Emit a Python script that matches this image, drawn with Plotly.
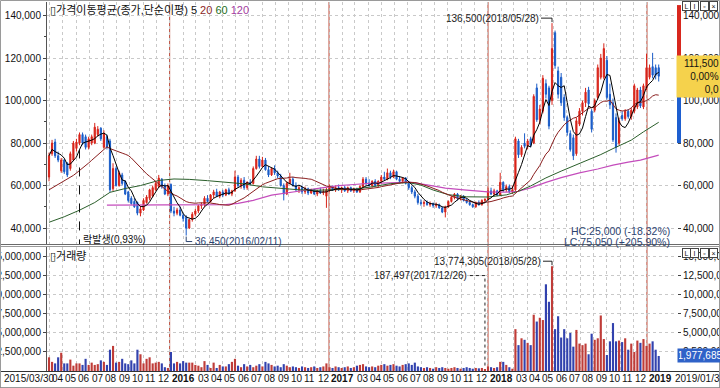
import pandas as pd
import plotly.graph_objects as go

# ------------------------------------------------------------------ data
first_week = "2015-03-30"          # weekly candles (Mondays)

opens = [
    64000, 75000, 80500, 74000, 67000, 72000, 70500, 68000, 72000, 77500,
    80000, 84000, 83000, 78000, 80000, 80000, 84000, 87000, 78000, 83000,
    81000, 58500, 68000, 60000, 65000, 62000, 57000, 54000, 52500, 52000,
    47000, 48500, 52000, 54000, 55000, 58000, 59500, 63000, 60000, 56000,
    60500, 48000, 47000, 48500, 46000, 45000, 40000, 44000, 46500, 48000,
    50500, 51000, 54000, 52500, 55500, 57000, 55000, 57000, 55500, 58000,
    56000, 57500, 64000, 60000, 62500, 59000, 61500, 61000, 68000, 72500,
    69000, 72000, 67500, 65000, 68000, 66000, 64500, 60000, 56000, 61000,
    63000, 60000, 58000, 59000, 57000, 58500, 56500, 58000, 56000, 57500,
    56500, 55000, 58000, 59500, 58000, 59000, 58000, 59000, 57500, 59000,
    57500, 58500, 57000, 59500, 63000, 61000, 60000, 62000, 60000, 62000,
    64000, 63000, 66000, 64000, 66500, 63000, 62000, 63500, 61000, 59000,
    57000, 55000, 52000, 51500, 52000, 51000, 51500, 50500, 51000, 49500,
    47500, 50000, 52500, 54500, 56000, 54000, 55000, 53000, 52000, 51000,
    50000, 52000, 51000, 53000, 53500, 57500, 56000, 57500, 55500, 61500,
    58000, 59500, 57000, 58000, 81000, 74500, 80000, 78500, 82000, 80000,
    106000, 91000, 95000, 108000, 106000, 100000, 132000, 114000, 111000, 101500,
    92000, 84500, 82500, 75000, 89000, 95000, 99000, 105000, 95000, 95500,
    101500, 111000, 111000, 119000, 103000, 99000, 92000, 80000, 93000, 91500,
    95000, 92500, 95000, 97000, 105000, 97000, 106000, 111000, 116000, 115500,
    115500]
highs = [
    75500, 81500, 82000, 76000, 73000, 72500, 71000, 76000, 81000, 82000,
    85000, 85000, 84000, 83000, 84000, 89500, 88000, 87500, 86000, 84000,
    82000, 70500, 69000, 67000, 66000, 62500, 57500, 55000, 54000, 52500,
    50500, 54000, 55500, 58500, 60000, 62000, 65000, 63500, 61000, 61000,
    61000, 50000, 49500, 50000, 47000, 46000, 44500, 47500, 49000, 51000,
    52000, 55000, 55500, 56000, 58000, 58500, 57500, 58000, 58500, 59000,
    58000, 67000, 65000, 63500, 64000, 62000, 63000, 69000, 74000, 74000,
    73500, 73000, 69000, 68500, 69500, 67000, 65500, 61000, 62000, 66000,
    64000, 61500, 60000, 60000, 59500, 59000, 58500, 58500, 58000, 59000,
    58500, 59000, 60500, 60000, 60000, 60500, 59500, 60000, 59500, 59500,
    59000, 59000, 60000, 64000, 64000, 63000, 62500, 63000, 62500, 65000,
    66500, 68000, 67000, 67500, 67000, 64500, 64000, 64000, 62000, 60000,
    58000, 56000, 53500, 53000, 53000, 52500, 52000, 52000, 51500, 50000,
    50500, 53000, 55000, 56500, 56500, 55500, 55500, 54000, 53000, 51500,
    52500, 53000, 53500, 54000, 59000, 59000, 58500, 58000, 66000, 62000,
    60500, 60500, 60000, 83000, 82000, 79000, 84600, 82000, 83000, 103000,
    108000, 98000, 112000, 110000, 107000, 136500, 133000, 116000, 113000, 103000,
    93000, 86000, 84000, 92000, 96500, 100000, 106000, 106500, 96000, 101000,
    117000, 122000, 127000, 121000, 108000, 101000, 94000, 92000, 95000, 96000,
    96000, 96500, 108000, 106000, 106500, 108000, 122000, 117000, 122500, 117000,
    117000]
lows = [
    62000, 74000, 73000, 71000, 66000, 65500, 64000, 67000, 71500, 76000,
    79000, 79000, 77000, 77000, 79000, 79500, 83000, 81000, 77500, 77000,
    57000, 57500, 59500, 59500, 60000, 55500, 52000, 51000, 49500, 46000,
    45500, 48000, 51500, 53000, 54500, 57500, 59000, 58500, 55500, 55000,
    47000, 45500, 46000, 45500, 43000, 36450, 39500, 43000, 45500, 47000,
    49000, 50000, 52000, 52000, 54000, 54500, 54000, 54500, 55000, 55500,
    55000, 57000, 59000, 58500, 58000, 58000, 60000, 60500, 67500, 68000,
    68500, 67000, 64000, 64500, 65000, 63500, 59500, 53000, 55500, 60500,
    59500, 57500, 56500, 56000, 56000, 55500, 56000, 55500, 55000, 56000,
    55500, 49500, 57000, 57500, 57000, 57500, 56500, 57000, 56500, 57000,
    56500, 56500, 56500, 59000, 60000, 59500, 59000, 59500, 59000, 61000,
    62500, 62500, 63000, 63500, 62500, 61000, 61000, 60500, 58000, 56000,
    54000, 51000, 50500, 50000, 50500, 50000, 49500, 49500, 49000, 47000,
    45000, 49500, 52000, 53500, 53000, 53000, 52500, 51500, 50500, 49500,
    49500, 50500, 50500, 52000, 53000, 55500, 55000, 55000, 55000, 57000,
    57000, 56500, 56000, 57500, 73000, 73500, 77500, 77000, 78000, 79500,
    90000, 89000, 94000, 101000, 86500, 98000, 115000, 101000, 97500, 90500,
    83500, 76000, 72000, 74000, 88000, 93000, 97000, 97500, 85000, 94500,
    100500, 110000, 110000, 100500, 96000, 80500, 75500, 79000, 90500, 90500,
    91500, 91000, 94000, 96000, 96500, 96000, 105000, 110000, 110500, 110000,
    109000]
closes = [
    74000, 80000, 74000, 72000, 72000, 66500, 65000, 75000, 80000, 80500,
    84000, 80000, 78000, 82000, 83000, 87500, 86500, 82000, 84600, 78000,
    58000, 68000, 60000, 66000, 61000, 56000, 53000, 51500, 50000, 47000,
    49000, 53000, 54600, 58000, 59000, 61000, 63500, 59500, 56000, 60000,
    48000, 47000, 48500, 46000, 44500, 40000, 44000, 46500, 48000, 50500,
    51000, 54000, 52500, 55500, 57000, 55000, 57000, 55500, 58000, 56000,
    57500, 64000, 60000, 62500, 59000, 61500, 61000, 68000, 72500, 69000,
    72000, 67500, 65000, 68000, 66000, 64500, 60000, 56000, 61000, 63000,
    60000, 58000, 59000, 57000, 58500, 56500, 58000, 56000, 57500, 56500,
    57000, 58000, 59500, 58000, 59000, 58000, 59000, 57500, 59000, 57500,
    58500, 57000, 59500, 63000, 61000, 60000, 62000, 60000, 62000, 64000,
    63000, 66000, 64000, 66500, 63000, 62000, 63500, 61000, 59000, 57000,
    55000, 52000, 51500, 52000, 51000, 51500, 50500, 51000, 49500, 47500,
    50000, 52500, 54500, 56000, 54000, 55000, 53000, 52000, 51000, 50000,
    52000, 51000, 53000, 53500, 57500, 56000, 57500, 55500, 61500, 58000,
    59500, 57000, 58000, 82000, 74500, 78000, 78500, 81000, 79000, 102000,
    91000, 96000, 110500, 103000, 88000, 124500, 116500, 103000, 99000, 92000,
    85000, 77000, 74000, 90500, 95000, 99000, 104000, 98500, 86500, 100000,
    115500, 120000, 124500, 101500, 98000, 81500, 78000, 90500, 91500, 95000,
    92500, 95500, 107000, 105000, 97500, 107000, 115500, 115500, 112000, 112000,
    111500]
volumes = [
    1800000, 1200000, 1000000, 1800000, 2400000, 1000000, 1000000, 1500000, 700000, 1000000,
    1000000, 800000, 1600000, 800000, 1100000, 800000, 900000, 1400000, 1200000, 800000,
    2800000, 3300000, 1100000, 1200000, 1600000, 1000000, 900000, 1400000, 1000000, 2800000,
    2200000, 1000000, 1600000, 1800000, 1000000, 1100000, 1200000, 1000000, 500000, 400000,
    2500000, 1000000, 1200000, 1000000, 1300000, 1100000, 1100000, 1100000, 800000, 700000,
    500000, 1300000, 800000, 400000, 1100000, 400000, 800000, 600000, 600000, 900000,
    1200000, 1600000, 700000, 500000, 900000, 600000, 800000, 500000, 700000, 900000,
    600000, 1200000, 1000000, 800000, 600000, 700000, 500000, 900000, 700000, 500000,
    600000, 500000, 400000, 600000, 500000, 400000, 500000, 600000, 400000, 500000,
    600000, 1000000, 500000, 400000, 600000, 500000, 400000, 500000, 600000, 400000,
    500000, 700000, 800000, 900000, 600000, 500000, 600000, 500000, 700000, 800000,
    900000, 700000, 800000, 900000, 700000, 600000, 800000, 900000, 1000000, 800000,
    1100000, 600000, 500000, 400000, 500000, 400000, 300000, 500000, 400000, 500000,
    400000, 300000, 400000, 500000, 400000, 300000, 400000, 500000, 400000, 300000,
    400000, 350000, 400000, 187497, 600000, 500000, 400000, 500000, 1200000, 1200000,
    800000, 500000, 300000, 5500000, 3400000, 4300000, 4100000, 3700000, 3400000, 7400000,
    6500000, 7000000, 6700000, 11400000, 9100000, 13774305, 5500000, 7200000, 4400000, 5500000,
    4300000, 5000000, 3200000, 5400000, 3600000, 3400000, 3600000, 2200000, 4900000, 4100000,
    4300000, 7300000, 4200000, 2100000, 3900000, 6300000, 3900000, 4000000, 3800000, 4300000,
    2800000, 3600000, 2500000, 4000000, 3700000, 4200000, 3300000, 3600000, 3900000, 2800000,
    1977685]

# 20-week average for the first weeks (window reaches before the visible data)
ma20_head = [58000, 58800, 59600, 60500, 61300, 62100, 62900, 63800, 64800, 65900,
             67000, 68200, 69400, 70600, 71900, 73200, 74600, 75900, 77100]
# 60- and 120-week averages (week index, value)
ma60_idx = [0, 5, 10, 15, 20, 25, 30, 36, 41, 46, 52, 58, 64, 70, 76, 82, 88, 94, 100,
            106, 112, 118, 122, 126, 131, 137, 144, 150, 154, 158, 163, 168, 174, 181,
            185, 191, 195, 200]
ma60_val = [42700, 45300, 48400, 52000, 56800, 58600, 60000, 62400, 63100, 62900, 62300,
            61700, 60800, 59400, 58700, 58000, 57800, 57900, 58300, 59400, 60900, 61400,
            60200, 57900, 55700, 54700, 54600, 55600, 57300, 59800, 63600, 66800, 70400,
            74600, 77400, 81400, 85300, 89800]
ma120_idx = [19, 30, 40, 50, 58, 62, 67, 73, 79, 84, 90, 95, 100, 105, 112, 118, 124, 130,
             137, 144, 150, 154, 158, 163, 168, 174, 180, 185, 190, 194, 200]
ma120_val = [50800, 50800, 50700, 50800, 51000, 51600, 53000, 55500, 56900, 57800, 59000,
             60000, 60500, 61000, 61300, 61600, 60300, 58800, 57800, 57000, 56900, 57300,
             58900, 61500, 63700, 66000, 67800, 69600, 71000, 72000, 74300]

event_idx = 10
event_text = "락발생(0,93%)"
high_date_label = "2018/05/28"
low_date_label = "2016/02/11"
vol_high_date_label = "2018/05/28"
vol_low_date_label = "2017/12/26"
axis_band = [80000, 145000]          # coloured band on the right price scale
first_label = "2015/03/30"
last_label = "2019/01/31"
price_ticks = [40000, 60000, 80000, 100000, 120000, 140000]
volume_ticks = [2500000, 5000000, 7500000, 10000000, 12500000, 15000000]
year_lines = ["2016-01-01", "2017-01-01", "2018-01-01", "2019-01-01"]
month_starts = pd.date_range("2015-04-01", "2019-01-01", freq="MS")
month_labels = [("<b>%d</b>" % m.year) if m.month == 1 else ("" if m.month == 2 else "%02d" % m.month)
                for m in month_starts]

# ------------------------------------------------------------------ derived
dates = pd.date_range(first_week, periods=len(closes), freq="7D")
cs = pd.Series(closes, dtype=float)
ma5 = cs.rolling(5, min_periods=1).mean().tolist()
ma20 = cs.rolling(20).mean().tolist()
ma20[:len(ma20_head)] = ma20_head

RED, BLUE = "#d8241a", "#1a5cc8"
VRED, VBLUE = "#bf3c38", "#3242ae"
up = [c >= o for o, c in zip(opens, closes)]
vol_colors = [VRED if u else VBLUE for u in up]

# ------------------------------------------------------------------ geometry
W, H = 720, 388
ML, MR, MT, MB = 47, 43, 2, 17
PW, PH = W - ML - MR, H - MT - MB
fx = lambda px: (px - ML) / PW
fy = lambda py: (H - MB - py) / PH
price_dom = [fy(244), 1.0]
vol_dom = [0.0, fy(247)]
price_range = [32470, 146450]
vol_range = [0, 16300000]
x_range = ["2015-03-25 09:00", "2019-03-11"]


def price_frac(v):
    return price_dom[0] + (v - price_range[0]) / (price_range[1] - price_range[0]) * (price_dom[1] - price_dom[0])


FONT = "Liberation Sans, Arial, Noto Sans CJK KR, sans-serif"
KFONT = "Liberation Sans, Noto Sans CJK KR, DejaVu Sans, sans-serif"
FS = 10

fig = go.Figure()
fig.add_trace(go.Candlestick(
    x=dates, open=opens, high=highs, low=lows, close=closes,
    increasing=dict(line=dict(color=RED, width=1), fillcolor=RED),
    decreasing=dict(line=dict(color=BLUE, width=1), fillcolor=BLUE),
    whiskerwidth=0, hoverinfo="skip", showlegend=False, xaxis="x", yaxis="y"))
fig.add_trace(go.Scatter(x=dates[ma120_idx], y=ma120_val, mode="lines",
                         line=dict(color="#c44cbc", width=1.2), hoverinfo="skip", showlegend=False))
fig.add_trace(go.Scatter(x=dates[ma60_idx], y=ma60_val, mode="lines",
                         line=dict(color="#2a5e2a", width=1), hoverinfo="skip", showlegend=False))
fig.add_trace(go.Scatter(x=dates, y=ma20, mode="lines",
                         line=dict(color="#8a1e1e", width=1), hoverinfo="skip", showlegend=False))
fig.add_trace(go.Scatter(x=dates, y=ma5, mode="lines",
                         line=dict(color="#000000", width=1), hoverinfo="skip", showlegend=False))
fig.add_trace(go.Bar(x=dates, y=volumes, marker=dict(color=vol_colors, line=dict(width=0)),
                     hoverinfo="skip", showlegend=False, xaxis="x", yaxis="y2"))
# anchors for the right-hand scales
fig.add_trace(go.Scatter(x=[dates[0]], y=[60000], mode="markers", marker=dict(opacity=0),
                         hoverinfo="skip", showlegend=False, yaxis="y3"))
fig.add_trace(go.Scatter(x=[dates[0]], y=[1000000], mode="markers", marker=dict(opacity=0),
                         hoverinfo="skip", showlegend=False, yaxis="y4"))

GRID = dict(showgrid=True, gridcolor="#c9c9c9", griddash="dot", gridwidth=1)
tickfont = dict(family=FONT, size=FS, color="#111")
axcommon = dict(ticks="outside", ticklen=3, tickcolor="#444", tickfont=tickfont, zeroline=False,
                automargin=False)

shapes = []
for yl in year_lines:
    shapes.append(dict(type="line", xref="x", yref="paper", x0=yl, x1=yl, y0=0, y1=1,
                       line=dict(color="#b8402f", width=1), layer="between"))
# separator between panes and frame
for yy, col in [(244.5, "#6a6a6a"), (246.5, "#9a9a9a")]:
    shapes.append(dict(type="line", xref="paper", yref="paper", x0=fx(0), x1=fx(720), y0=fy(yy), y1=fy(yy),
                       line=dict(color=col, width=1)))
shapes.append(dict(type="rect", xref="paper", yref="paper", x0=fx(0.5), x1=fx(719.5), y0=fy(387.5),
                   y1=fy(371.5), line=dict(color="#333", width=1)))
shapes.append(dict(type="rect", xref="paper", yref="paper", x0=fx(0.5), x1=fx(719.5), y0=fy(387.5),
                   y1=fy(0.5), line=dict(color="#9a9a9a", width=1)))
# right price-scale colour band
last = closes[-1]
shapes.append(dict(type="rect", xref="paper", yref="paper", x0=1.0, x1=fx(681), y0=price_frac(last),
                   y1=price_frac(axis_band[1]), fillcolor="#d8281e", line=dict(width=0)))
shapes.append(dict(type="rect", xref="paper", yref="paper", x0=1.0, x1=fx(681), y0=price_frac(axis_band[0]),
                   y1=price_frac(last), fillcolor="#1e5fd0", line=dict(width=0)))
# event line
shapes.append(dict(type="line", xref="x", yref="y", x0=dates[event_idx], x1=dates[event_idx],
                   y0=lows[event_idx] - 2000, y1=price_range[0], line=dict(color="#111", width=1, dash="dash")))

imax = max(range(len(highs)), key=lambda i: highs[i])
imin = min(range(len(lows)), key=lambda i: lows[i])
vmax = max(range(len(volumes)), key=lambda i: volumes[i])
vmin = min(range(len(volumes)), key=lambda i: volumes[i])


def pix_path(xi, yv, yref, path, dash="solid", color="#222"):
    return dict(type="path", xref="x", yref=yref, xsizemode="pixel", ysizemode="pixel",
                xanchor=str(dates[xi].date()), yanchor=yv, path=path,
                line=dict(color=color, width=1, dash=dash))


shapes.append(pix_path(imax, highs[imax], "y", "M -11,5 L 0,5 L 0,1"))
shapes.append(pix_path(imin, lows[imin], "y", "M 0,-1 L 0,-6 L 6,-6", color="#2c4470"))
shapes.append(pix_path(vmax, volumes[vmax], "y2", "M -9,5 L 0,5 L 0,1"))
shapes.append(pix_path(vmin, volumes[vmin], "y2", "M -15,94 L 0,94 L 0,2", dash="dot"))

ann = []


def A(text, x, y, xref="paper", yref="paper", xanchor="left", size=FS, color="#111", family=FONT, **kw):
    d = dict(text=text, x=x, y=y, xref=xref, yref=yref, xanchor=xanchor, yanchor="middle",
             showarrow=False, font=dict(family=family, size=size, color=color))
    d.update(kw)
    ann.append(d)


A("▯가격이동평균(종가,단순이평) 5 <span style='color:#8a1e1e'>20</span> "
  "<span style='color:#1e6e1e'>60</span> <span style='color:#a33ca0'>120</span>",
  fx(48), fy(10), size=11, family=KFONT)
A("▯거래량", fx(48), fy(256), size=11, family=KFONT)
A(f"{highs[imax]:,}({high_date_label})", dates[imax], highs[imax], xref="x", yref="y",
  xanchor="right", xshift=-11, yshift=5, color="#222")
A(f"{lows[imin]:,}({low_date_label})", dates[imin], lows[imin], xref="x", yref="y",
  xanchor="left", xshift=7, yshift=-6, color="#2c4470")
A(f"{volumes[vmax]:,}({vol_high_date_label})", dates[vmax], volumes[vmax], xref="x", yref="y2",
  xanchor="right", xshift=-9, yshift=5, color="#222")
A(f"{volumes[vmin]:,}({vol_low_date_label})", dates[vmin], volumes[vmin], xref="x", yref="y2",
  xanchor="right", xshift=-16, yshift=94, color="#222")
A(event_text, dates[event_idx], fy(240), xref="x", xanchor="left", xshift=1, family=KFONT, size=10)
hc = highs[imax] - last
lc = last - lows[imin]
A(f"HC:{hc:,} ({(last / highs[imax] - 1) * 100:+.2f}%)", fx(672), fy(231), xanchor="right", color="#2c4470",
  size=10.5)
A(f"LC:{lc:,} ({(last / lows[imin] - 1) * 100:+.2f}%)", fx(672), fy(242), xanchor="right", color="#2c4470",
  size=10.5)
A(f"{last:,}<br>0,00%<br>0,0", fx(699), last, yref="y", xanchor="center", align="right", width=40,
  bgcolor="#f5d24c", borderpad=2, color="#111")
A(f"{volumes[-1]:,}", fx(700), volumes[-1], yref="y2", xanchor="center", width=42,
  bgcolor="#2f62c8", borderpad=1, color="#ffffff", size=10)
for yy in (6, 253):
    for k, t in enumerate(["L", "I", "▫", "×"]):
        A(t, fx(686 + 9 * k), fy(yy), xanchor="center", size=7, color="#111",
          bordercolor="#444", borderwidth=1, borderpad=0, bgcolor="#ffffff", width=7, height=8)
# date strip
for m, lab in zip(month_starts, month_labels):
    if lab:
        A(lab, str(m.date()), fy(379), xref="x", xanchor="left", xshift=0)
A(first_label, fx(2), fy(379))
A(last_label, fx(673), fy(379))

fig.update_layout(
    width=W, height=H, margin=dict(l=ML, r=MR, t=MT, b=MB, pad=0, autoexpand=False),
    paper_bgcolor="#ffffff", plot_bgcolor="#ffffff",
    font=dict(family=FONT, size=FS, color="#111"),
    showlegend=False, bargap=0.3, boxgap=0.45,
    xaxis=dict(type="date", range=x_range, anchor="y2", showticklabels=False, ticks="",
               tickmode="array", tickvals=month_starts, rangeslider=dict(visible=False),
               showline=False, zeroline=False, automargin=False, **GRID),
    yaxis=dict(domain=price_dom, range=price_range, anchor="x", side="left", tickmode="array",
               tickvals=price_ticks, tickformat=",d", showline=True, linecolor="#555",
               minor=dict(ticks="outside", ticklen=2, tickcolor="#444", tickmode="array",
                          tickvals=[50000, 70000, 90000, 110000, 130000], showgrid=False),
               **GRID, **axcommon),
    yaxis2=dict(domain=vol_dom, range=vol_range, anchor="x", side="left", tickmode="array",
                tickvals=volume_ticks, tickformat=",d", showline=True, linecolor="#555",
                **GRID, **axcommon),
    yaxis3=dict(overlaying="y", side="right", anchor="x", range=price_range, tickmode="array",
                tickvals=price_ticks, tickformat=",d", showgrid=False, showline=False, **axcommon),
    yaxis4=dict(overlaying="y2", side="right", anchor="x", range=vol_range, tickmode="array",
                tickvals=volume_ticks, tickformat=",d", showgrid=False, showline=False, **axcommon),
    shapes=shapes, annotations=ann,
)

fig.write_html("out.html", config={"displayModeBar": False},
               post_script="document.body.style.margin='0px';document.body.style.overflow='hidden';")
